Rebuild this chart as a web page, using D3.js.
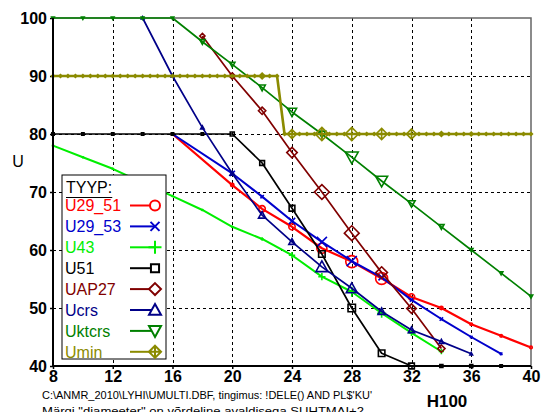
<!DOCTYPE html>
<html>
<head>
<meta charset="utf-8">
<script src="https://cdn.jsdelivr.net/npm/d3@7"></script>
<style>
  body { margin: 0; background: #fff; }
  svg { display: block; }
  text { font-family: "Liberation Sans", Arial, sans-serif; }
</style>
</head>
<body>
<svg id="chart" width="541" height="412"></svg>
<script>
// Axis ticks
const xTicks = [8, 12, 16, 20, 24, 28, 32, 36, 40];
const yTicks = [40, 50, 60, 70, 80, 90, 100];

// Series: H100 values, U values, number of observations (marker size)
const u29_51H = [16, 20, 22, 24, 26, 28, 30, 32, 34, 36, 38, 40];
const u29_51U = [80, 71.2, 67.1, 64, 60.3, 58, 55.1, 51.9, 50, 47.2, 45.2, 43.2];
const u29_51N = [1, 2, 9, 9, 25, 36, 36, 9, 2, 1, 1, 1];

const u29_53H = [16, 20, 22, 24, 26, 28, 30, 32, 34, 36, 38];
const u29_53U = [80, 73.2, 69.2, 65, 61.4, 58.1, 55.3, 51.4, 48.1, 45, 42.1];
const u29_53N = [1, 6, 2, 9, 25, 25, 9, 2, 2, 1, 1];

const u43H = [8, 10, 12, 14, 16, 18, 20, 22, 24, 26, 28, 30, 32, 34];
const u43U = [78, 76, 74, 71.6, 69.3, 66.9, 64, 61.9, 59.1, 55.4, 52.8, 49.1, 45.7, 42.5];
const u43N = [1, 1, 1, 1, 1, 1, 1, 2, 9, 12, 25, 20, 9, 6];

const u51H = [8, 10, 12, 14, 16, 18, 20, 22, 24, 26, 28, 30, 32, 34, 36, 38];
const u51U = [80, 80, 80, 80, 80, 80, 80, 75, 67.2, 59.3, 50, 42.2, 40, 40, 40, 40];
const u51N = [1, 1, 1, 1, 1, 1, 4, 6, 9, 12, 16, 12, 9, 2, 2, 1];

const uap27H = [18, 20, 22, 24, 26, 28, 30, 32, 34];
const uap27U = [96.9, 90, 84, 76.8, 70, 62.9, 56.1, 49.9, 43];
const uap27N = [4, 6, 9, 20, 42, 42, 25, 16, 9];

const ucrsH = [14, 16, 18, 20, 22, 24, 26, 28, 30, 32, 34, 36];
const ucrsU = [100, 90, 81.1, 73.2, 66, 61.4, 57.1, 53.4, 49.4, 46.2, 44.2, 42.1];
const ucrsN = [1, 1, 2, 4, 12, 9, 36, 30, 12, 9, 4, 1];

const uktcrsH = [8, 10, 12, 14, 16, 18, 20, 22, 24, 26, 28, 30, 32, 34, 36, 38, 40];
const uktcrsU = [100, 100, 100, 100, 100, 95.9, 92, 88, 83.8, 80, 76, 71.9, 68, 64, 60, 56, 52];
const uktcrsN = [1, 1, 1, 1, 1, 6, 6, 9, 20, 12, 42, 36, 12, 6, 2, 2, 2];

const uminH = [
  8, 8.5, 9, 9.5, 10, 10.5, 11, 11.5, 12, 12.5, 13, 13.5, 14, 14.5, 15, 15.5,
  16, 16.5, 17, 17.5, 18, 18.5, 19, 19.5, 20, 20.5, 21, 21.5, 22, 22.5, 23,
  23.5, 24, 24.5, 25, 25.5, 26, 26.5, 27, 27.5, 28, 28.5, 29, 29.5, 30, 30.5,
  31, 31.5, 32, 32.5, 33, 33.5, 34, 34.5, 35, 35.5, 36, 36.5, 37, 37.5, 38,
  38.5, 39, 39.5, 40
];
const uminU = [
  90, 90, 90, 90, 90, 90, 90, 90, 90, 90, 90, 90, 90, 90, 90, 90,
  90, 90, 90, 90, 90, 90, 90, 90, 90, 90, 90, 90, 90, 90, 90,
  80, 80, 80, 80, 80, 80, 80, 80, 80, 80, 80, 80, 80, 80, 80, 80,
  80, 80, 80, 80, 80, 80, 80, 80, 80, 80, 80, 80, 80, 80, 80,
  80, 80, 80, 80
];
const uminN = [
  1, 1, 1, 1, 1, 1, 1, 1, 1, 1, 1, 1, 1, 1, 1, 1,
  1, 1, 1, 1, 1, 1, 1, 1, 1, 1, 1, 1, 6, 1, 1,
  1, 16, 1, 1, 1, 36, 1, 1, 1, 36, 1, 1, 1, 25, 1,
  1, 1, 20, 1, 1, 1, 4, 1, 1, 1, 2, 1, 1, 1, 1,
  1, 1, 1, 1
];

const seriesNames = ["U29_51", "U29_53", "U43", "U51", "UAP27", "Ucrs", "Uktcrs", "Umin"];
const seriesData = {
  U29_51: [u29_51H, u29_51U, u29_51N],
  U29_53: [u29_53H, u29_53U, u29_53N],
  U43:    [u43H, u43U, u43N],
  U51:    [u51H, u51U, u51N],
  UAP27:  [uap27H, uap27U, uap27N],
  Ucrs:   [ucrsH, ucrsU, ucrsN],
  Uktcrs: [uktcrsH, uktcrsU, uktcrsN],
  Umin:   [uminH, uminU, uminN]
};

// Footnote lines under the chart
const footLines = [
  "C:\\ANMR_2010\\LYHI\\UMULTI.DBF, tingimus: !DELE() AND PL$'KU'",
  'Märgi "diameeter" on võrdeline avaldisega   SUHTMAI+2'
];

// Drawing styles per series
const styles = {
  U29_51: { color: "#ff0000", shape: "circle",   width: 2.2 },
  U29_53: { color: "#0000cc", shape: "cross",    width: 2 },
  U43:    { color: "#00ee00", shape: "plus",     width: 2 },
  U51:    { color: "#000000", shape: "square",   width: 1.7 },
  UAP27:  { color: "#800000", shape: "diamond",  width: 1.7 },
  Ucrs:   { color: "#000088", shape: "triangle", width: 1.7 },
  Uktcrs: { color: "#008000", shape: "triDown",  width: 1.7 },
  Umin:   { color: "#8b8b00", shape: "dplus",    width: 2.6 }
};

const svg = d3.select("#chart");
const plotLeft = 53, plotRight = 531, plotTop = 18, plotBottom = 366;

const x = d3.scaleLinear().domain([8, 40]).range([plotLeft, plotRight]);
const y = d3.scaleLinear().domain([40, 100]).range([plotBottom, plotTop]);
const size = d3.scaleSqrt().domain([1, 50]).range([1.3, 7]);

// Marker path for a given shape and half-size
function markerPath(shape, r) {
  switch (shape) {
    case "circle":
      return `M${-r},0A${r},${r} 0 1,0 ${r},0A${r},${r} 0 1,0 ${-r},0Z`;
    case "cross":
      return `M${-r},${-r}L${r},${r}M${-r},${r}L${r},${-r}`;
    case "plus":
      return `M${-r},0L${r},0M0,${-r}L0,${r}`;
    case "square": {
      const s = r * 0.9;
      return `M${-s},${-s}H${s}V${s}H${-s}Z`;
    }
    case "diamond": {
      const d = r * 1.15;
      return `M0,${-d}L${d},0L0,${d}L${-d},0Z`;
    }
    case "triangle":
      return `M0,${-r}L${r},${r * 0.8}L${-r},${r * 0.8}Z`;
    case "triDown":
      return `M0,${r}L${r},${-r * 0.8}L${-r},${-r * 0.8}Z`;
    case "dplus": {
      const d = r * 1.1;
      return `M0,${-d}L${d},0L0,${d}L${-d},0ZM${-d},0L${d},0M0,${-d}L0,${d}`;
    }
  }
  return "";
}

// Dashed grid
const grid = svg.append("g").attr("stroke", "#000").attr("stroke-width", 1)
  .attr("stroke-dasharray", "3,3");
grid.selectAll("line.v").data(xTicks.filter(d => d > 8 && d < 40)).join("line")
  .attr("class", "v")
  .attr("x1", d => Math.round(x(d)) + 0.5).attr("x2", d => Math.round(x(d)) + 0.5)
  .attr("y1", plotTop).attr("y2", plotBottom);
grid.selectAll("line.h").data(yTicks.filter(d => d > 40 && d < 100)).join("line")
  .attr("class", "h")
  .attr("y1", d => Math.round(y(d)) + 0.5).attr("y2", d => Math.round(y(d)) + 0.5)
  .attr("x1", plotLeft).attr("x2", plotRight);

// Frame: top and right in gray
svg.append("path")
  .attr("d", `M${plotLeft},${plotTop}H${plotRight}V${plotBottom}`)
  .attr("fill", "none").attr("stroke", "#666").attr("stroke-width", 1.5);

// Axes
const xAxis = svg.append("g").attr("transform", `translate(0,${plotBottom})`)
  .call(d3.axisBottom(x).tickValues(xTicks).tickSize(3).tickPadding(2).tickFormat(d3.format("d")));
const yAxis = svg.append("g").attr("transform", `translate(${plotLeft},0)`)
  .call(d3.axisLeft(y).tickValues(yTicks).tickSize(3).tickPadding(3).tickFormat(d3.format("d")));
[xAxis, yAxis].forEach(a => {
  a.select(".domain").remove();
  a.selectAll(".tick line").attr("stroke", "#000").attr("stroke-width", 1.5);
  a.selectAll("text").attr("fill", "#000").style("font-size", "16px")
    .style("font-weight", "bold").style("font-family", '"Liberation Sans", Arial, sans-serif');
});

// Series lines and markers
const line = d3.line().x(d => x(d.h)).y(d => y(d.u));
seriesNames.forEach(name => {
  const [hs, us, ns] = seriesData[name];
  const st = styles[name];
  const pts = hs.map((h, i) => ({ h, u: us[i], n: ns[i] }));
  const g = svg.append("g");
  g.append("path").datum(pts).attr("d", line)
    .attr("fill", "none").attr("stroke", st.color)
    .attr("stroke-width", st.width).attr("stroke-linejoin", "round");
  g.selectAll("path.m").data(pts).join("path")
    .attr("class", "m")
    .attr("transform", d => `translate(${x(d.h)},${y(d.u)})`)
    .attr("d", d => markerPath(st.shape, size(d.n)))
    .attr("fill", "none").attr("stroke", st.color).attr("stroke-width", 1.6);
});

// Axis lines (left and bottom)
svg.append("path")
  .attr("d", `M${plotLeft},${plotTop}V${plotBottom}H${plotRight}`)
  .attr("fill", "none").attr("stroke", "#000").attr("stroke-width", 2);

// Legend
const lg = svg.append("g");
lg.append("rect").attr("x", 62).attr("y", 175).attr("width", 104).attr("height", 184)
  .attr("fill", "#fff").attr("stroke", "#000").attr("stroke-width", 1);
const title = lg.append("text").attr("x", 66).attr("y", 193)
  .style("font-size", "16px").attr("fill", "#000").text("TYYP:");
const tw = title.node().getComputedTextLength();
lg.append("line").attr("x1", 66).attr("x2", 66 + tw).attr("y1", 197.5).attr("y2", 197.5)
  .attr("stroke", "#000").attr("stroke-width", 1.2);

const legendMarker = { circle: 5, cross: 4.5, plus: 6.5, square: 4.5, diamond: 5.2, triangle: 6, triDown: 6, dplus: 5.5 };
seriesNames.forEach((name, i) => {
  const st = styles[name];
  const cy = 205.5 + i * 20.9;
  lg.append("text").attr("x", 65).attr("y", cy + 5.8)
    .style("font-size", "16px").attr("fill", st.color).text(name);
  lg.append("line").attr("x1", 130).attr("x2", 155).attr("y1", cy).attr("y2", cy)
    .attr("stroke", st.color).attr("stroke-width", 2);
  const filled = !(st.shape === "cross" || st.shape === "plus");
  lg.append("path").attr("transform", `translate(155,${cy})`)
    .attr("d", markerPath(st.shape, legendMarker[st.shape]))
    .attr("fill", filled ? "#fff" : "none")
    .attr("stroke", st.color).attr("stroke-width", 2);
});

// Axis titles
svg.append("text").attr("x", 18).attr("y", 166.5).attr("text-anchor", "middle")
  .style("font-size", "16px").attr("fill", "#000").text("U");
svg.append("text").attr("x", 447).attr("y", 406.5).attr("text-anchor", "middle")
  .style("font-size", "17px").style("font-weight", "bold").attr("fill", "#000").text("H100");

// Footnotes
svg.append("text").attr("x", 42).attr("y", 399)
  .attr("textLength", 330).attr("lengthAdjust", "spacingAndGlyphs")
  .style("font-size", "10.5px").attr("fill", "#000")
  .text(footLines[0]);
svg.append("text").attr("x", 42).attr("y", 414.5)
  .attr("textLength", 322).attr("lengthAdjust", "spacingAndGlyphs")
  .style("font-size", "10.5px").attr("fill", "#000")
  .text(footLines[1]);
</script>
</body>
</html>
